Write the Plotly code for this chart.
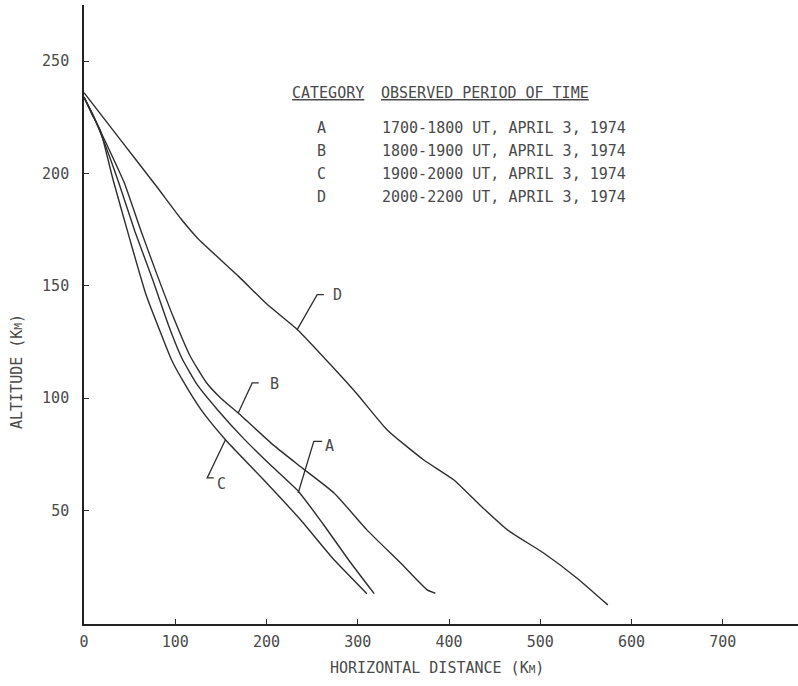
import plotly.graph_objects as go

# ---- data (km, altitude km) ----
cat_a_x = [0, 10, 22, 38, 56, 75, 93, 107, 124, 146, 175, 205, 235, 262, 290, 318]
cat_a_y = [234, 226, 214, 196, 174, 153, 132, 118, 106, 95, 82, 70, 58.5, 44, 28, 13]

cat_b_x = [0, 12, 26, 44, 62, 80, 98, 116, 134, 150, 169, 179, 208, 237, 274, 310, 347, 376, 385]
cat_b_y = [234, 224, 212, 196, 175, 155, 136, 119, 107, 100, 93.4, 89.7, 79, 69.6, 57.8, 41.4, 26.6, 14.7, 13.2]

cat_c_x = [0, 8, 18, 32, 50, 68, 86, 96, 108, 128, 155, 196, 237, 272, 310]
cat_c_y = [234, 227, 219, 197, 171, 146, 127, 117, 108, 95, 81.5, 64, 46, 29, 13]

cat_d_x = [0, 40, 80, 106, 125, 170, 200, 234, 270, 299, 332, 372, 405, 435, 464, 504, 540, 574]
cat_d_y = [236, 215, 194, 180, 171, 154, 142, 130.5, 115, 102, 86, 72.6, 63.7, 52, 41.4, 31, 20, 8]

x_ticks = [0, 100, 200, 300, 400, 500, 600, 700]
y_ticks = [50, 100, 150, 200, 250]

categories = ["A", "B", "C", "D"]
periods = ["1700-1800 UT, APRIL 3, 1974",
           "1800-1900 UT, APRIL 3, 1974",
           "1900-2000 UT, APRIL 3, 1974",
           "2000-2200 UT, APRIL 3, 1974"]

# leader lines: (curve point, elbow, end of horizontal tick), label position
leaders = {
    "D": ([233.6, 255.5, 262.8], [130.5, 146.1, 146.1], (277.5, 146.1)),
    "B": ([169.0, 184.3, 191.5], [93.4, 106.8, 106.8], (208.7, 106.5)),
    "A": ([234.7, 251.8, 261.0], [57.8, 80.8, 80.8], (269.0, 78.8)),
    "C": ([155.0, 135.0, 142.2], [81.5, 64.5, 64.5], (150.7, 61.9)),
}

MONO = "DejaVu Sans Mono, Liberation Mono, monospace"
TXT = "#4a4a4a"
LINE = "#2e2e2e"

fig = go.Figure()
for xs, ys in [(cat_a_x, cat_a_y), (cat_b_x, cat_b_y), (cat_c_x, cat_c_y), (cat_d_x, cat_d_y)]:
    fig.add_trace(go.Scatter(x=xs, y=ys, mode="lines",
                             line=dict(color=LINE, width=1.4, shape="spline", smoothing=0.5),
                             showlegend=False, hoverinfo="skip"))

for name, (lx, ly, (tx, ty)) in leaders.items():
    fig.add_trace(go.Scatter(x=lx, y=ly, mode="lines",
                             line=dict(color=LINE, width=1.3),
                             showlegend=False, hoverinfo="skip"))
    fig.add_annotation(x=tx, y=ty, text=name, showarrow=False,
                       xanchor="center", yanchor="middle",
                       font=dict(family=MONO, size=15, color=TXT))

# category table
ann = []
ann.append(dict(xref="paper", yref="paper", x=(290 - 84) / 714, y=1 - (93 - 5) / 619,
                text="<u>CATEGORY</u>", xanchor="left", yanchor="middle"))
ann.append(dict(xref="paper", yref="paper", x=(379 - 84) / 714, y=1 - (93 - 5) / 619,
                text="<u>OBSERVED PERIOD OF TIME</u>", xanchor="left", yanchor="middle"))
row_y = [127.5, 150.7, 173.5, 196.7]
for c, p, ry in zip(categories, periods, row_y):
    ann.append(dict(xref="paper", yref="paper", x=(321.7 - 84) / 714, y=1 - (ry - 5) / 619,
                    text=c, xanchor="center", yanchor="middle"))
    ann.append(dict(xref="paper", yref="paper", x=(380 - 84) / 714, y=1 - (ry - 5) / 619,
                    text=p, xanchor="left", yanchor="middle"))
for a in ann:
    fig.add_annotation(showarrow=False, font=dict(family=MONO, size=15, color=TXT), **a)

# axis titles
fig.add_annotation(xref="paper", yref="paper", x=(437 - 84) / 714, y=1 - (668 - 5) / 619,
                   text="HORIZONTAL DISTANCE (K<span style='font-size:11px'>M</span>)",
                   showarrow=False, xanchor="center", yanchor="middle",
                   font=dict(family=MONO, size=15, color=TXT))
fig.add_annotation(xref="paper", yref="paper", x=(17 - 84) / 714, y=1 - (372 - 5) / 619,
                   text="ALTITUDE (K<span style='font-size:11px'>M</span>)", textangle=-90,
                   showarrow=False, xanchor="center", yanchor="middle",
                   font=dict(family=MONO, size=15, color=TXT))

fig.update_layout(
    width=798, height=686,
    margin=dict(l=84, r=0, t=5, b=62),
    paper_bgcolor="white", plot_bgcolor="white",
    xaxis=dict(range=[0, 782.4], tickvals=x_ticks, ticktext=[str(v) for v in x_ticks],
               ticks="inside", ticklen=5, tickcolor=LINE, tickwidth=1.2,
               showline=True, linecolor="#222", linewidth=1.6,
               showgrid=False, zeroline=False, ticklabelstandoff=3,
               tickfont=dict(family=MONO, size=15, color=TXT)),
    yaxis=dict(range=[-0.5, 275], tickvals=y_ticks, ticktext=[str(v) for v in y_ticks],
               ticks="inside", ticklen=5, tickcolor=LINE, tickwidth=1.2,
               showline=True, linecolor="#222", linewidth=1.6,
               showgrid=False, zeroline=False, ticklabelstandoff=10,
               tickfont=dict(family=MONO, size=15, color=TXT)),
)

fig.write_html("out.html")
